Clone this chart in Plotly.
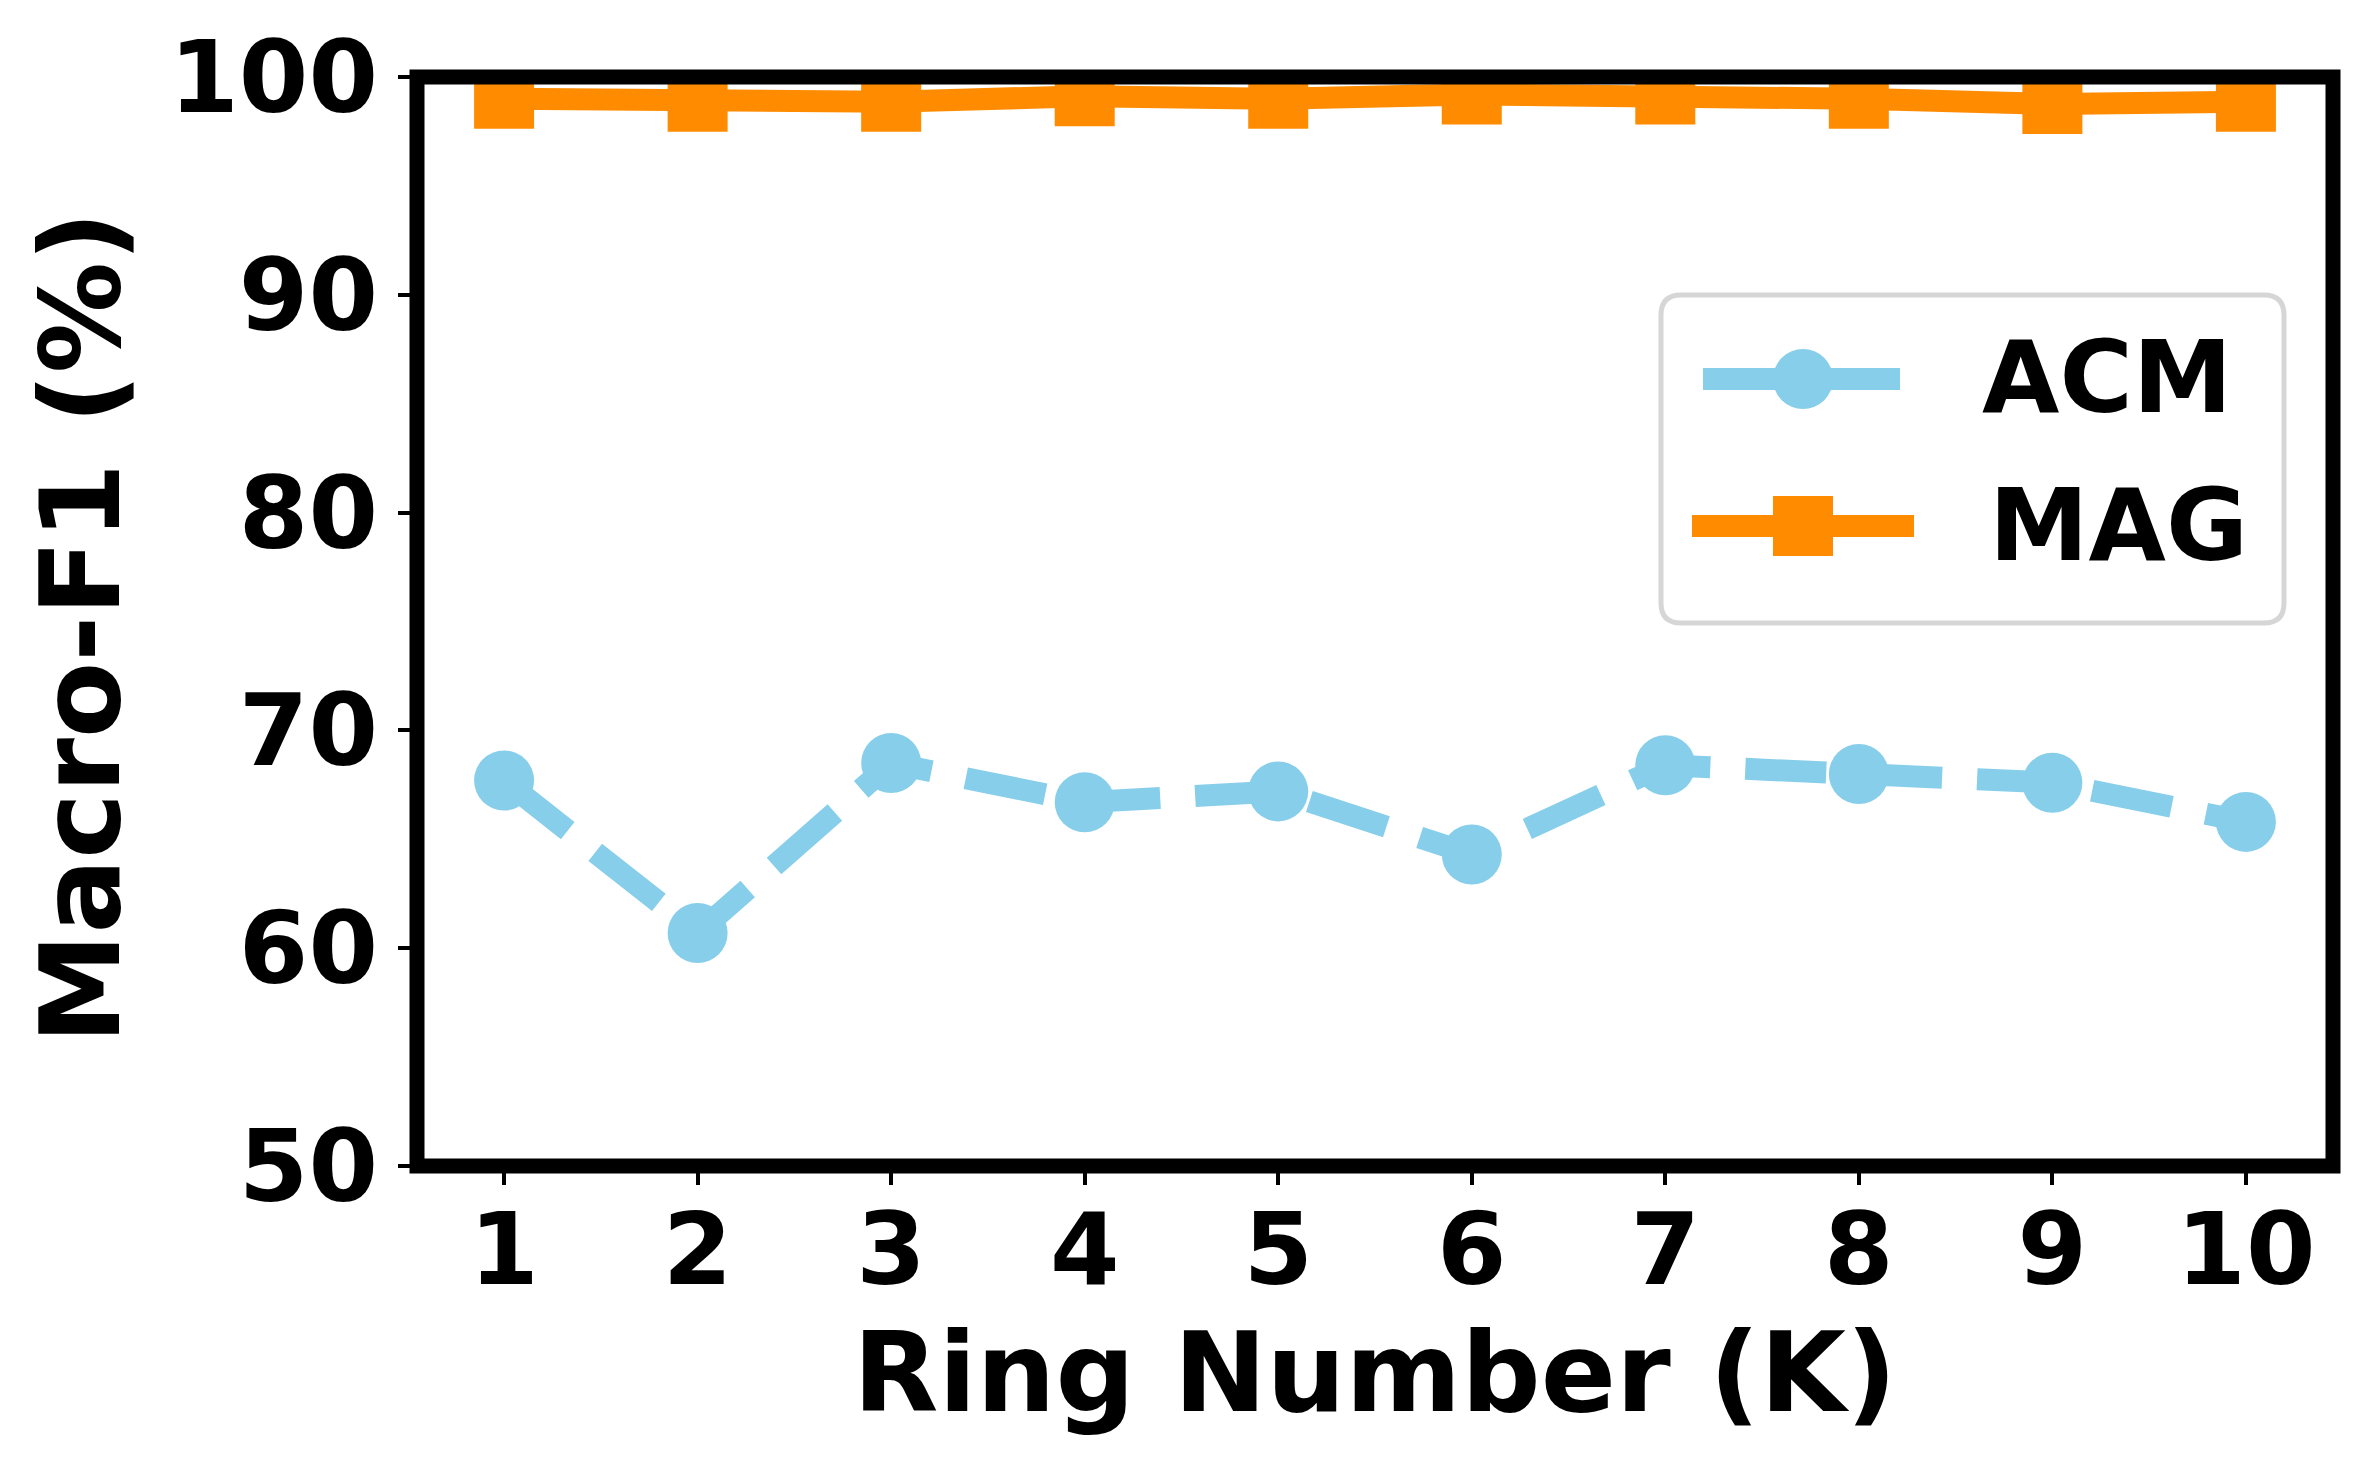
import plotly.graph_objects as go

# Ring number K on the x axis
ring_numbers = [1, 2, 3, 4, 5, 6, 7, 8, 9, 10]

# Macro-F1 (%)
acm_f1 = [67.7, 60.7, 68.5, 66.7, 67.2, 64.3, 68.4, 68.0, 67.6, 65.8]
mag_f1 = [99.0, 98.86, 98.86, 99.12, 99.0, 99.2, 99.2, 99.0, 98.76, 98.86]

x_ticks = [1, 2, 3, 4, 5, 6, 7, 8, 9, 10]
y_ticks = [50, 60, 70, 80, 90, 100]

# page body has an 8px margin, so the figure is drawn 8px smaller and shifted
OFF = 8
W, H = 2373 - OFF, 1472 - OFF
PL, PT = 417, 77            # plot area top-left in page pixels
PW, PH = 1916, 1089
L, T = PL - OFF, PT - OFF
R, B = W - L - PW, H - T - PH

FONT = "DejaVu Sans"
SKY = "#87CEEB"
ORANGE = "#FF8C00"


def px(x):
    return (x - PL) / PW


def py(y):
    return 1 - (y - PT) / PH


fig = go.Figure()

fig.add_trace(go.Scatter(
    x=ring_numbers, y=acm_f1, name="ACM",
    mode="lines+markers",
    line=dict(color=SKY, width=22, dash="81px,35px"),
    marker=dict(color=SKY, size=60, symbol="circle", line=dict(width=0)),
    showlegend=False
))
fig.add_trace(go.Scatter(
    x=ring_numbers, y=mag_f1, name="MAG",
    mode="lines+markers",
    line=dict(color=ORANGE, width=22),
    marker=dict(color=ORANGE, size=60, symbol="square", line=dict(width=0)),
    showlegend=False
))

tickfont = dict(family=FONT, size=100, color="black", weight="bold")

fig.update_xaxes(
    range=[0.55, 10.45], tickvals=x_ticks, ticktext=[str(v) for v in x_ticks],
    ticks="outside", ticklen=18, tickwidth=4, tickcolor="black",
    showgrid=False, zeroline=False, showline=False, tickfont=tickfont,
    ticklabelstandoff=-21
)
fig.update_yaxes(
    range=[50, 100], tickvals=y_ticks, ticktext=[str(v) for v in y_ticks],
    ticks="outside", ticklen=18, tickwidth=4, tickcolor="black",
    showgrid=False, zeroline=False, showline=False, tickfont=tickfont
)

shapes = []
# axes frame (spines)
shapes.append(dict(type="rect", xref="paper", yref="paper", x0=0, x1=1, y0=0, y1=1,
                   line=dict(color="black", width=15), layer="above"))

# legend box with rounded corners
bx0, bx1, by0, by1, rad = 1661, 2284, 295, 623, 20
p = (f"M {px(bx0 + rad)},{py(by0)} L {px(bx1 - rad)},{py(by0)} "
     f"Q {px(bx1)},{py(by0)} {px(bx1)},{py(by0 + rad)} "
     f"L {px(bx1)},{py(by1 - rad)} Q {px(bx1)},{py(by1)} {px(bx1 - rad)},{py(by1)} "
     f"L {px(bx0 + rad)},{py(by1)} Q {px(bx0)},{py(by1)} {px(bx0)},{py(by1 - rad)} "
     f"L {px(bx0)},{py(by0 + rad)} Q {px(bx0)},{py(by0)} {px(bx0 + rad)},{py(by0)} Z")
shapes.append(dict(type="path", xref="paper", yref="paper", path=p,
                   line=dict(color="#d6d6d6", width=5), fillcolor="white", layer="above"))

# legend samples
acm_y, mag_y, cx = 379, 526, 1803
shapes.append(dict(type="line", xref="paper", yref="paper",
                   x0=px(1703), x1=px(1903), y0=py(acm_y), y1=py(acm_y),
                   line=dict(color=SKY, width=22, dash="81px,35px"), layer="above"))
shapes.append(dict(type="circle", xref="paper", yref="paper",
                   x0=px(cx - 30), x1=px(cx + 30), y0=py(acm_y - 30), y1=py(acm_y + 30),
                   fillcolor=SKY, line=dict(width=0), layer="above"))
shapes.append(dict(type="line", xref="paper", yref="paper",
                   x0=px(1692), x1=px(1914), y0=py(mag_y), y1=py(mag_y),
                   line=dict(color=ORANGE, width=22), layer="above"))
shapes.append(dict(type="rect", xref="paper", yref="paper",
                   x0=px(cx - 30), x1=px(cx + 30), y0=py(mag_y - 30), y1=py(mag_y + 30),
                   fillcolor=ORANGE, line=dict(width=0), layer="above"))

legfont = dict(family=FONT, size=100, color="black", weight="bold")
titlefont = dict(family=FONT, size=111, color="black", weight="bold")

annotations = [
    dict(text="ACM", x=px(1980), y=py(377), xref="paper", yref="paper",
         xanchor="left", yanchor="middle", showarrow=False, font=legfont),
    dict(text="MAG", x=px(1987), y=py(525), xref="paper", yref="paper",
         xanchor="left", yanchor="middle", showarrow=False, font=legfont),
    dict(text="Ring Number (K)", x=px(1375), y=py(1372), xref="paper", yref="paper",
         xanchor="center", yanchor="middle", showarrow=False, font=titlefont),
    dict(text="Macro-F1 (%)", x=px(80), y=py(628), xref="paper", yref="paper",
         xanchor="center", yanchor="middle", textangle=-90, showarrow=False, font=titlefont),
]

fig.update_layout(
    width=W, height=H,
    margin=dict(l=L, r=R, t=T, b=B, autoexpand=False),
    paper_bgcolor="white", plot_bgcolor="white",
    showlegend=False,
    shapes=shapes, annotations=annotations
)

fig.write_html("out.html")
